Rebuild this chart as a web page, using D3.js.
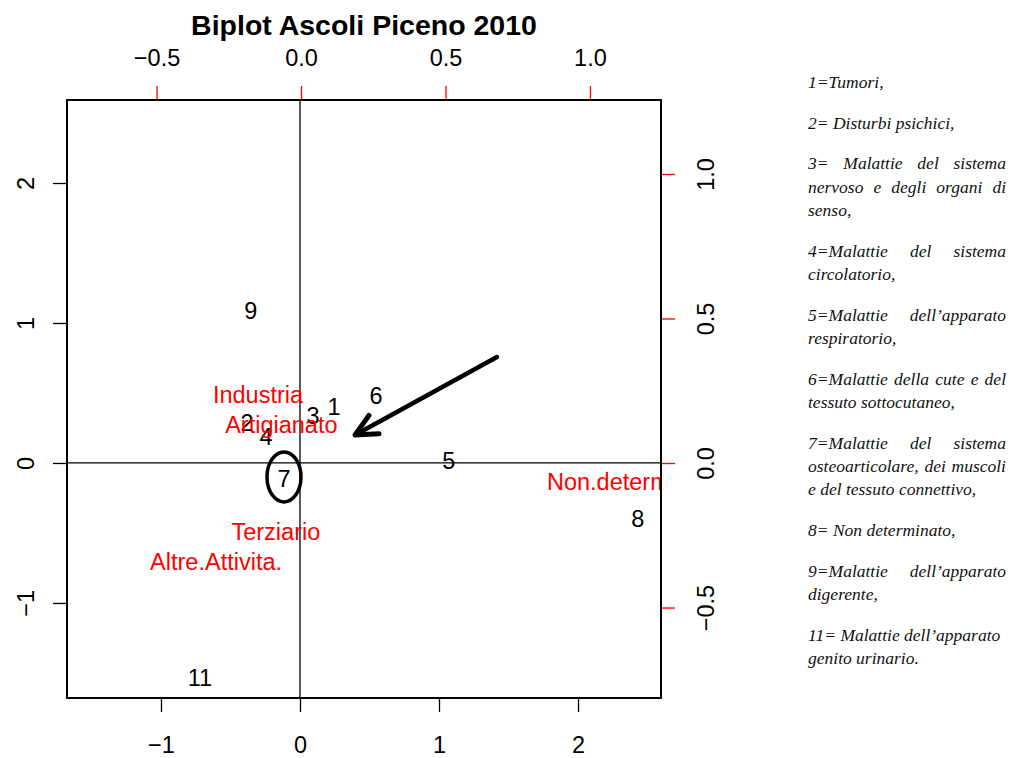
<!DOCTYPE html>
<html>
<head>
<meta charset="utf-8">
<script src="https://cdn.jsdelivr.net/npm/d3@7"></script>
<style>
  body { margin: 0; background: #fff; }
  text { font-family: "Liberation Sans", Arial, sans-serif; }
</style>
</head>
<body>
<div id="chart"></div>
<script>
// point scores (cause of death codes)
var pointLabels = ["1", "2", "3", "4", "5", "6", "7", "8", "9", "11"];
var pointX = [0.245, -0.38, 0.094, -0.245, 1.07, 0.547, -0.115, 2.43, -0.353, -0.72];
var pointY = [0.40, 0.286, 0.336, 0.186, 0.014, 0.479, -0.114, -0.40, 1.086, -1.536];

// variable loadings (sectors) on the secondary axes
var varLabels = ["Industria", "Artigianato", "Terziario", "Altre.Attivita.", "Non.determinato"];
var varX = [-0.149, -0.068, -0.087, -0.294, 1.152];
var varY = [0.235, 0.131, -0.239, -0.343, -0.066];

var xTicks = [-1, 0, 1, 2];
var yTicks = [-1, 0, 1, 2];
var x2Ticks = [-0.5, 0.0, 0.5, 1.0];
var y2Ticks = [-0.5, 0.0, 0.5, 1.0];

// hand drawn note: arrow pointing at the cluster, circle round point 7
var noteArrow = [[1.417, 0.757], [0.396, 0.2]];
var notePoint = "7";

var legendLines = [
  { t: "1=Tumori,", j: false, gap: 0 },
  { t: "2= Disturbi psichici,", j: false, gap: 1 },
  { t: "3= Malattie del sistema", j: true, gap: 1 },
  { t: "nervoso e degli organi di", j: true, gap: 0 },
  { t: "senso,", j: false, gap: 0 },
  { t: "4=Malattie del sistema", j: true, gap: 1 },
  { t: "circolatorio,", j: false, gap: 0 },
  { t: "5=Malattie dell\u2019apparato", j: true, gap: 1 },
  { t: "respiratorio,", j: false, gap: 0 },
  { t: "6=Malattie della cute e del", j: true, gap: 1 },
  { t: "tessuto sottocutaneo,", j: false, gap: 0 },
  { t: "7=Malattie del sistema", j: true, gap: 1 },
  { t: "osteoarticolare, dei muscoli", j: true, gap: 0 },
  { t: "e del tessuto connettivo,", j: false, gap: 0 },
  { t: "8= Non determinato,", j: false, gap: 1 },
  { t: "9=Malattie dell\u2019apparato", j: true, gap: 1 },
  { t: "digerente,", j: false, gap: 0 },
  { t: "11= Malattie dell\u2019apparato", j: false, gap: 1 },
  { t: "genito urinario.", j: false, gap: 0 }
];

var W = 1019, H = 758;
var box = { left: 67, right: 661, top: 100, bottom: 698 };
var fs = "23.5px";

var svg = d3.select("#chart").append("svg")
    .attr("width", W)
    .attr("height", H);

var x = d3.scaleLinear().domain([-1.676, 2.597]).range([box.left, box.right]);
var y = d3.scaleLinear().domain([-1.679, 2.593]).range([box.bottom, box.top]);
var x2 = d3.scaleLinear().domain([-0.81, 1.246]).range([box.left, box.right]);
var y2 = d3.scaleLinear().domain([-0.813, 1.256]).range([box.bottom, box.top]);

var fmt2 = d3.format(".1f");
var fmt1 = d3.format("d");

// clip for text inside the plot
svg.append("defs").append("clipPath")
    .attr("id", "clip")
    .append("rect")
    .attr("x", box.left).attr("y", box.top)
    .attr("width", box.right - box.left)
    .attr("height", box.bottom - box.top);

// title
svg.append("text")
    .attr("x", (box.left + box.right) / 2)
    .attr("y", 35)
    .attr("text-anchor", "middle")
    .style("font-size", "28.5px")
    .style("font-weight", "bold")
    .text("Biplot Ascoli Piceno 2010");

// bottom axis
var gB = svg.append("g")
    .attr("transform", "translate(0," + box.bottom + ")")
    .call(d3.axisBottom(x).tickValues(xTicks).tickSize(14).tickFormat(fmt1));
gB.selectAll("text").attr("y", 55).attr("dy", 0).style("font-size", fs);

// left axis
var gL = svg.append("g")
    .attr("transform", "translate(" + box.left + ",0)")
    .call(d3.axisLeft(y).tickValues(yTicks).tickSize(14).tickFormat(fmt1));
gL.selectAll("text")
    .attr("x", 0).attr("dy", 0)
    .attr("text-anchor", "middle")
    .attr("transform", "translate(-33,0) rotate(-90)")
    .style("font-size", fs);

// top axis (red ticks)
var gT = svg.append("g")
    .attr("transform", "translate(0," + box.top + ")")
    .call(d3.axisTop(x2).tickValues(x2Ticks).tickSize(14).tickFormat(fmt2));
gT.selectAll("text").attr("y", -34).attr("dy", 0).style("font-size", fs).attr("fill", "#000");

// right axis (red ticks)
var gR = svg.append("g")
    .attr("transform", "translate(" + box.right + ",0)")
    .call(d3.axisRight(y2).tickValues(y2Ticks).tickSize(14).tickFormat(fmt2));
gR.selectAll("text")
    .attr("x", 0).attr("dy", 0)
    .attr("text-anchor", "middle")
    .attr("transform", "translate(53,0) rotate(-90)")
    .style("font-size", fs)
    .attr("fill", "#000");

[gB, gL, gT, gR].forEach(function(g) {
  g.select(".domain").remove();
  g.selectAll("text").style("font-family", "'Liberation Sans', Arial, sans-serif");
});
gB.selectAll("line").attr("stroke", "#000").attr("stroke-width", 1.3);
gL.selectAll("line").attr("stroke", "#000").attr("stroke-width", 1.3);
gT.selectAll("line").attr("stroke", "#f00").attr("stroke-width", 1.3);
gR.selectAll("line").attr("stroke", "#f00").attr("stroke-width", 1.3);

// zero lines
svg.append("line")
    .attr("x1", box.left).attr("x2", box.right)
    .attr("y1", y(0)).attr("y2", y(0))
    .attr("stroke", "#000").attr("stroke-width", 1.3);
svg.append("line")
    .attr("x1", x(0)).attr("x2", x(0))
    .attr("y1", box.top).attr("y2", box.bottom)
    .attr("stroke", "#000").attr("stroke-width", 1.3);

var plot = svg.append("g").attr("clip-path", "url(#clip)");

// points as labels
var pts = pointLabels.map(function(d, i) { return { label: d, x: pointX[i], y: pointY[i] }; });
plot.selectAll("text.pt")
    .data(pts)
    .enter()
    .append("text")
    .attr("class", "pt")
    .attr("x", function(d) { return x(d.x); })
    .attr("y", function(d) { return y(d.y); })
    .attr("dy", "0.35em")
    .attr("text-anchor", "middle")
    .style("font-size", fs)
    .style("fill", "#000")
    .text(function(d) { return d.label; });

// variables
var vars = varLabels.map(function(d, i) { return { label: d, x: varX[i], y: varY[i] }; });
plot.selectAll("text.var")
    .data(vars)
    .enter()
    .append("text")
    .attr("class", "var")
    .attr("x", function(d) { return x2(d.x); })
    .attr("y", function(d) { return y2(d.y); })
    .attr("dy", "0.35em")
    .attr("text-anchor", "middle")
    .style("font-size", fs)
    .style("fill", "#f00")
    .text(function(d) { return d.label; });

// box
svg.append("rect")
    .attr("x", box.left).attr("y", box.top)
    .attr("width", box.right - box.left)
    .attr("height", box.bottom - box.top)
    .attr("fill", "none")
    .attr("stroke", "#000")
    .attr("stroke-width", 2);

// hand drawn annotations
var p7 = pts.find(function(d) { return d.label === notePoint; });
svg.append("ellipse")
    .attr("cx", x(p7.x)).attr("cy", y(p7.y) - 2)
    .attr("rx", 17).attr("ry", 25)
    .attr("fill", "none")
    .attr("stroke", "#000")
    .attr("stroke-width", 3.5);

var ax0 = x(noteArrow[0][0]), ay0 = y(noteArrow[0][1]);
var ax1 = x(noteArrow[1][0]), ay1 = y(noteArrow[1][1]);
svg.append("line")
    .attr("x1", ax0).attr("y1", ay0)
    .attr("x2", ax1).attr("y2", ay1)
    .attr("stroke", "#000").attr("stroke-width", 4.5)
    .attr("stroke-linecap", "round");
var ang = Math.atan2(ay0 - ay1, ax0 - ax1);
var headLen = 24, spread = 0.45;
svg.append("path")
    .attr("d", "M" + (ax1 + headLen * Math.cos(ang + spread)) + "," + (ay1 + headLen * Math.sin(ang + spread)) +
               "L" + ax1 + "," + ay1 +
               "L" + (ax1 + headLen * Math.cos(ang - spread)) + "," + (ay1 + headLen * Math.sin(ang - spread)))
    .attr("fill", "none")
    .attr("stroke", "#000").attr("stroke-width", 5)
    .attr("stroke-linecap", "round")
    .attr("stroke-linejoin", "round");

// legend (justified italic text)
var legX = 808, legW = 198, legY = 88, lineH = 23.4, paraGap = 17.2;
var leg = svg.append("g")
    .style("font-family", "'Liberation Serif', 'Times New Roman', serif")
    .style("font-style", "italic")
    .style("font-size", "17.5px")
    .style("fill", "#111");

var cy = legY;
legendLines.forEach(function(ln, i) {
  if (i > 0) cy += lineH + (ln.gap ? paraGap : 0);
  if (!ln.j) {
    leg.append("text").attr("x", legX).attr("y", cy).style("font-family", "inherit").text(ln.t);
    return;
  }
  var words = ln.t.split(" ");
  var nodes = words.map(function(w) {
    return leg.append("text").attr("y", cy).style("font-family", "inherit").text(w);
  });
  var widths = nodes.map(function(n) { return n.node().getComputedTextLength(); });
  var total = d3.sum(widths);
  var gap = (legW - total) / (words.length - 1);
  var cx = legX;
  nodes.forEach(function(n, k) {
    n.attr("x", cx);
    cx += widths[k] + gap;
  });
});
</script>
</body>
</html>
